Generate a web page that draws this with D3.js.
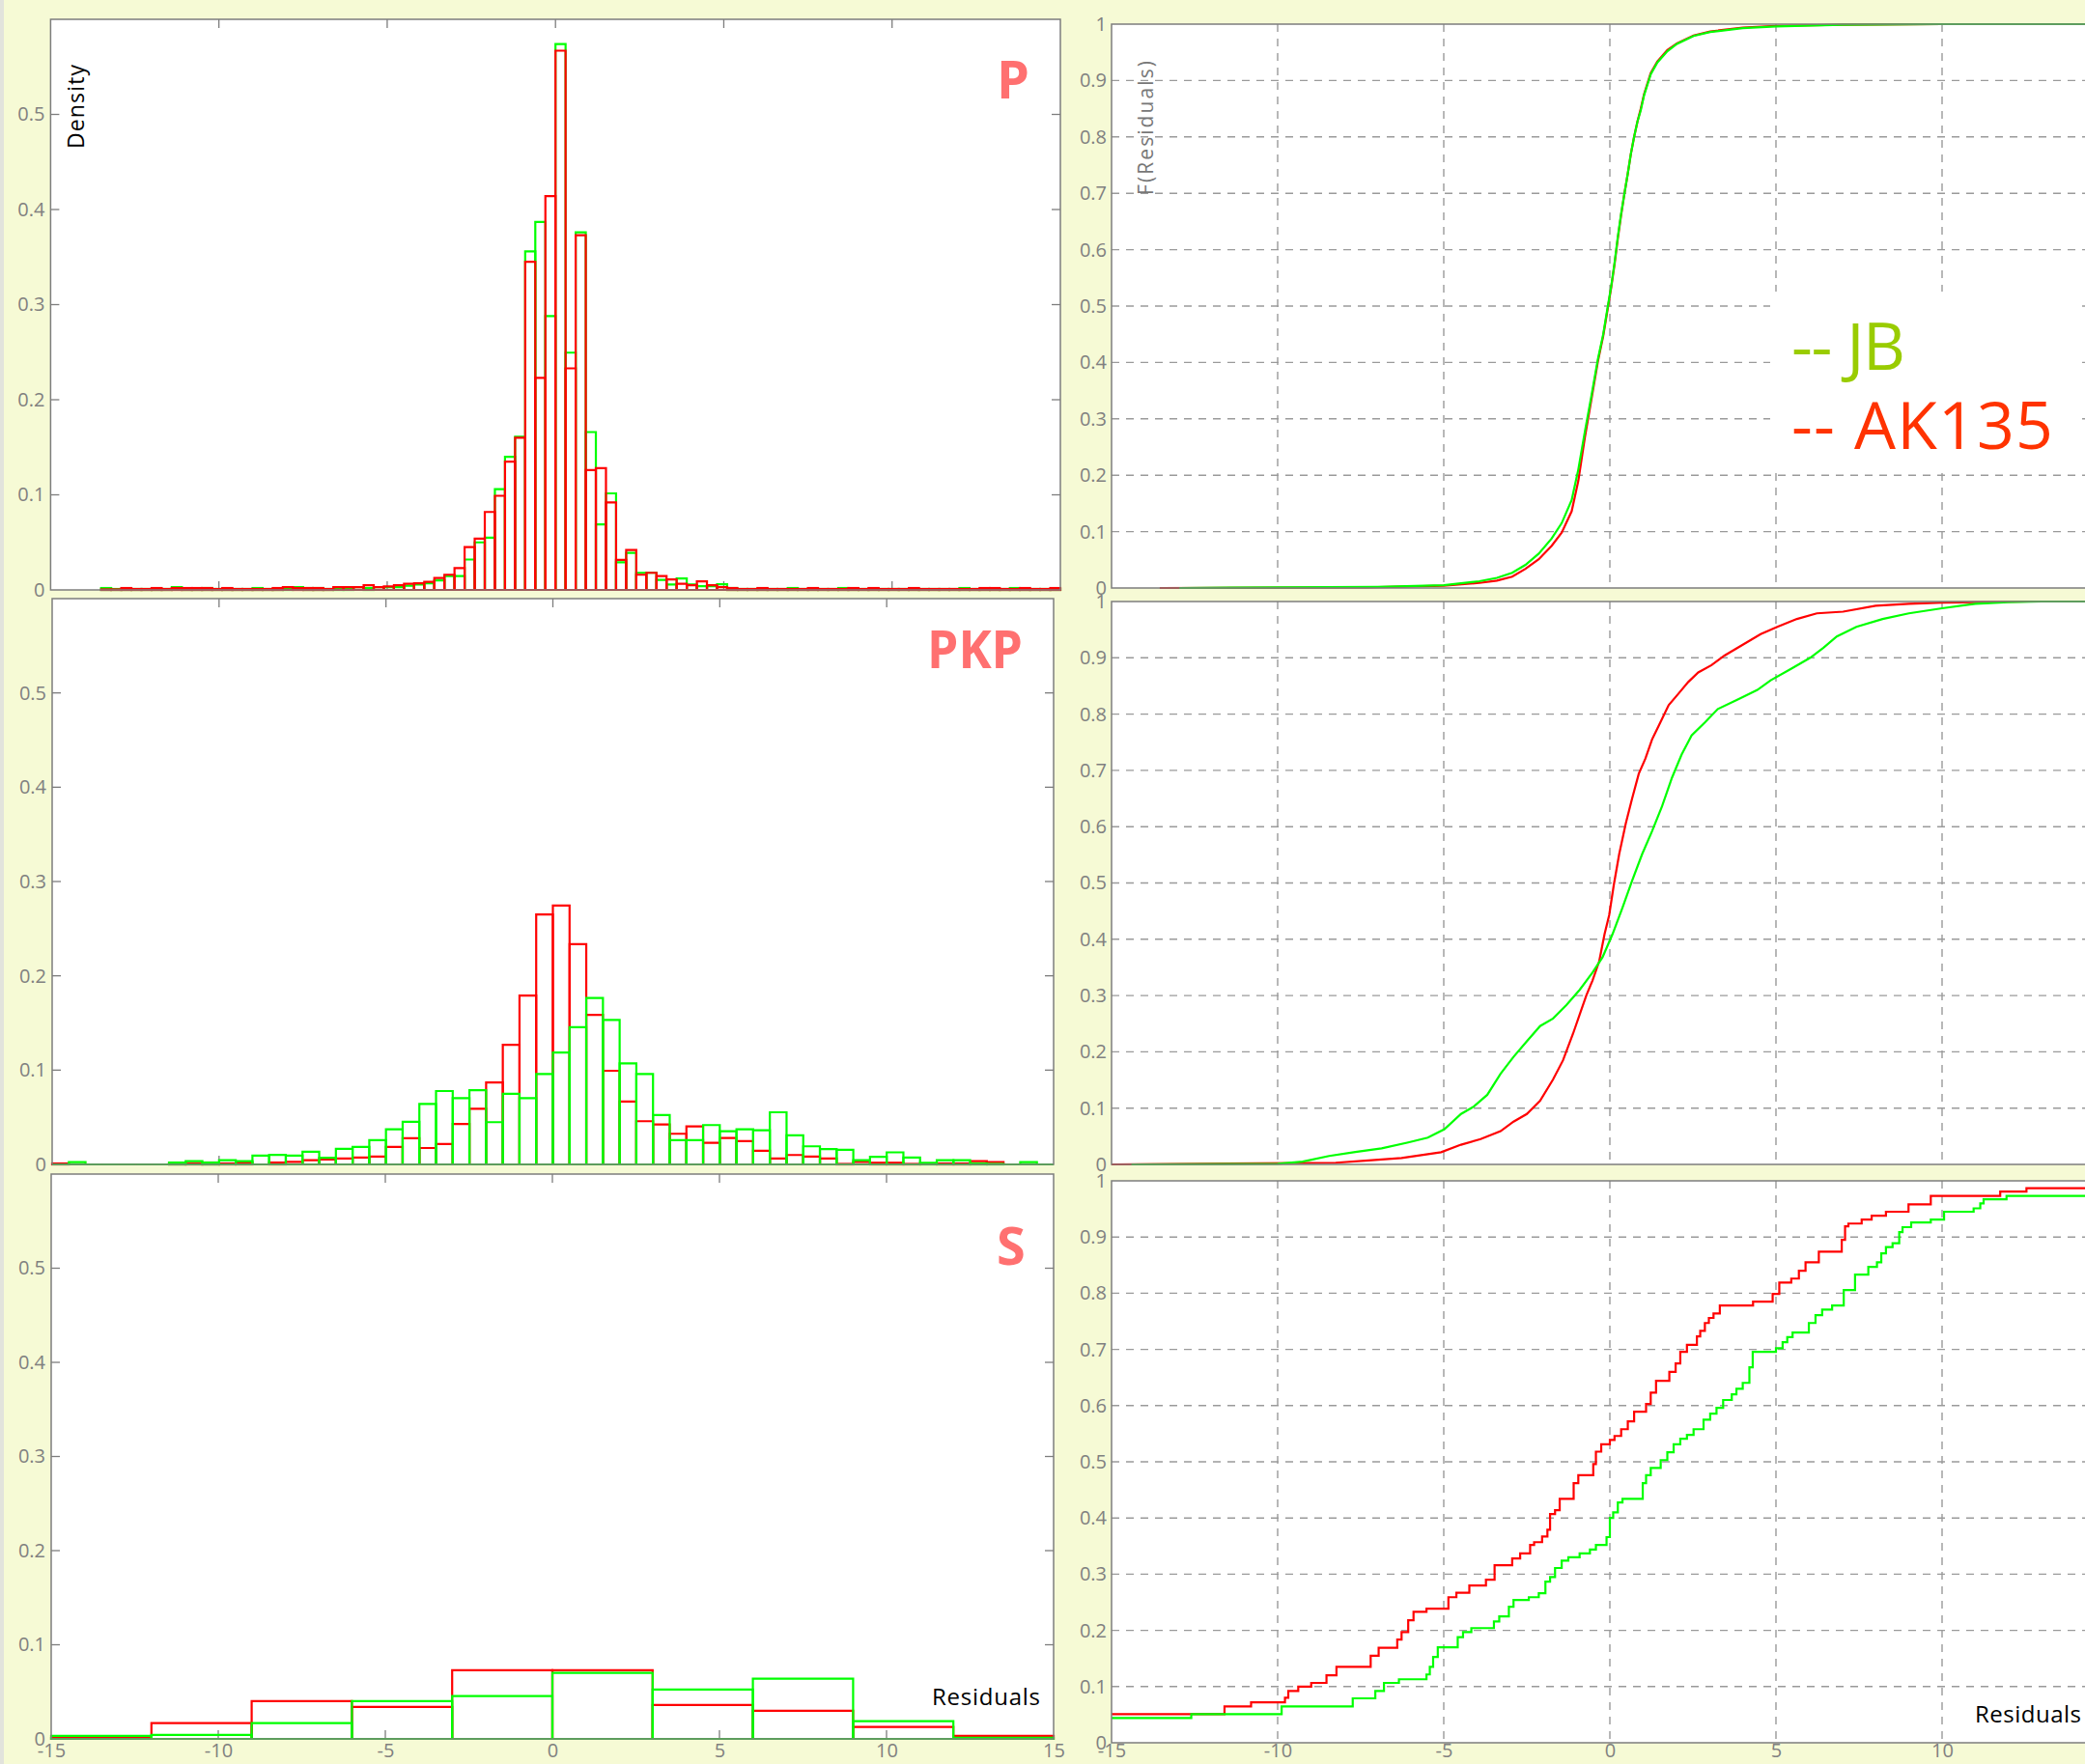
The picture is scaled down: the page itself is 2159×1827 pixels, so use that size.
<!DOCTYPE html>
<html>
<head>
<meta charset="utf-8">
<script src="https://cdn.jsdelivr.net/npm/d3@7"></script>
<style>
  body { margin: 0; background: #f6fad5; }
  svg { display: block; }
  text { font-family: "Open Sans", "DejaVu Sans", sans-serif; }
</style>
</head>
<body>
<svg id="fig" width="2159" height="1827"></svg>
<script>
// ---- histogram data (density per bin, bins start at -15) ----
const pBinWidth = 0.3;
const pJB = [null, null, null, null, null, 0.002, 0.001, 0.001, 0.001, 0.001,
  0.001, 0.001, 0.003, 0.001, 0.001, 0.002, 0.001, 0.001, 0.001, 0.001,
  0.002, 0.001, 0.001, 0.002, 0.003, 0.002, 0.002, 0.001, 0.002, 0.002,
  0.003, 0.002, 0.003, 0.003, 0.003, 0.0045, 0.0057, 0.007, 0.010, 0.0145,
  0.0145, 0.032, 0.050, 0.055, 0.106, 0.140, 0.161, 0.356, 0.387, 0.288,
  0.574, 0.2495, 0.376, 0.166, 0.069, 0.1015, 0.029, 0.039, 0.018, 0.018,
  0.0106, 0.0057, 0.012, 0.0057, 0.004, 0.004, 0.006, 0.002, 0.001, 0.001,
  0.001, 0.001, 0.001, 0.002, 0.001, 0.001, 0.001, 0.001, 0.002, 0.001,
  0.001, 0.001, 0.001, 0.001, 0.001, 0.001, 0.001, 0.001, 0.001, 0.001,
  0.002, 0.001, 0.001, 0.001, 0.001, 0.002, 0.001, 0.001, 0.001, 0.001];
const pAK = [null, null, null, null, null, 0.0005, 0.0005, 0.002, 0.001, 0.001,
  0.002, 0.001, 0.002, 0.002, 0.002, 0.002, 0.001, 0.002, 0.001, 0.001,
  0.001, 0.001, 0.002, 0.003, 0.002, 0.002, 0.002, 0.001, 0.003, 0.003,
  0.003, 0.005, 0.003, 0.0037, 0.005, 0.0065, 0.007, 0.0085, 0.0126, 0.016,
  0.023, 0.045, 0.054, 0.082, 0.099, 0.135, 0.160, 0.345, 0.223, 0.414,
  0.567, 0.233, 0.373, 0.126, 0.128, 0.092, 0.0316, 0.042, 0.016, 0.018,
  0.0145, 0.011, 0.0065, 0.005, 0.009, 0.005, 0.003, 0.002, 0.001, 0.001,
  0.002, 0.001, 0.001, 0.001, 0.001, 0.002, 0.001, 0.001, 0.001, 0.002,
  0.001, 0.002, 0.001, 0.001, 0.001, 0.002, 0.001, 0.001, 0.001, 0.001,
  0.001, 0.001, 0.002, 0.002, 0.001, 0.001, 0.002, 0.001, 0.001, 0.002];

const pkpBinWidth = 0.5;
const pkpJB = [0, 0.0024, 0, 0, 0, 0, 0, 0.002, 0.0035, 0.002,
  0.0044, 0.0035, 0.0093, 0.0102, 0.0093, 0.0134, 0.0070, 0.0165, 0.0185, 0.0257,
  0.0373, 0.0451, 0.0642, 0.0778, 0.0703, 0.0788, 0.0448, 0.0748, 0.0703, 0.0959,
  0.1187, 0.1456, 0.1764, 0.1532, 0.1071, 0.0959, 0.0523, 0.0257, 0.0257, 0.0417,
  0.0352, 0.0373, 0.0362, 0.0553, 0.0308, 0.0192, 0.0162, 0.0155, 0.0044, 0.008,
  0.0128, 0.0072, 0.0017, 0.0044, 0.0044, 0.001, 0.0005, 0, 0.0024, 0];
const pkpAK = [0.001, 0, 0, 0, 0, 0, 0, 0.001, 0.001, 0.002,
  0.001, 0.002, 0, 0.002, 0.0027, 0.0044, 0.0053, 0.0063, 0.0073, 0.0083,
  0.0185, 0.0278, 0.0174, 0.0216, 0.0428, 0.0591, 0.087, 0.1269, 0.1791, 0.2650,
  0.2745, 0.2336, 0.1586, 0.0993, 0.0666, 0.0458, 0.0424, 0.0325, 0.0404, 0.0230,
  0.0280, 0.0246, 0.0144, 0.0063, 0.0100, 0.0083, 0.0063, 0.0005, 0.0027, 0.0018,
  0.0018, 0.0005, 0, 0.001, 0.001, 0.0034, 0.0024, 0, 0, 0];

const sBinWidth = 3;
const sJB = [0.0033, 0.0043, 0.0168, 0.0402, 0.0455, 0.0701, 0.0525, 0.0639, 0.0189, 0.0013];
const sAK = [0.0013, 0.0168, 0.0402, 0.034, 0.0730, 0.0730, 0.0361, 0.0299, 0.0127, 0.0033];

// ---- empirical CDF readings [residual, F] ----
const cdfPJB = [[-12.96, 0], [-7.0, 0.002], [-5.0, 0.005], [-3.93, 0.012], [-3.4, 0.018],
  [-2.94, 0.027], [-2.54, 0.041], [-2.14, 0.061], [-1.75, 0.088], [-1.45, 0.115],
  [-1.15, 0.156], [-0.95, 0.21], [-0.75, 0.278], [-0.56, 0.339], [-0.36, 0.406],
  [-0.2, 0.45], [-0.06, 0.50], [0.04, 0.535], [0.14, 0.576], [0.24, 0.623],
  [0.34, 0.664], [0.44, 0.70], [0.54, 0.735], [0.63, 0.769], [0.73, 0.80],
  [0.83, 0.827], [0.93, 0.847], [1.03, 0.874], [1.23, 0.911], [1.43, 0.932],
  [1.73, 0.952], [2.02, 0.965], [2.52, 0.979], [3.02, 0.986], [4.0, 0.993],
  [5.0, 0.996], [7.0, 0.999], [10.0, 1.0], [15, 1.0]];
const cdfPAK = [[-13.55, 0], [-7.3, 0.001], [-6.6, 0.002], [-5.0, 0.004], [-3.93, 0.009],
  [-3.4, 0.013], [-2.94, 0.02], [-2.54, 0.034], [-2.14, 0.051], [-1.75, 0.075],
  [-1.45, 0.098], [-1.15, 0.136], [-0.95, 0.19], [-0.75, 0.268], [-0.56, 0.333],
  [-0.36, 0.402], [-0.2, 0.447], [-0.06, 0.497], [0.04, 0.533], [0.14, 0.574],
  [0.24, 0.62], [0.34, 0.662], [0.44, 0.70], [0.54, 0.735], [0.63, 0.769],
  [0.73, 0.80], [0.83, 0.827], [0.93, 0.85], [1.03, 0.876], [1.23, 0.913],
  [1.43, 0.934], [1.73, 0.954], [2.02, 0.966], [2.52, 0.98], [3.02, 0.987],
  [4.0, 0.994], [5.0, 0.997], [7.0, 0.999], [10.0, 1.0], [15, 1.0]];

const cdfPkpJB = [[-14.4, 0], [-10.0, 0.001], [-9.25, 0.005], [-8.45, 0.015], [-7.66, 0.022],
  [-6.87, 0.0285], [-6.07, 0.039], [-5.48, 0.0475], [-4.98, 0.0625], [-4.48, 0.0896],
  [-4.09, 0.103], [-3.69, 0.1236], [-3.29, 0.161], [-2.9, 0.191], [-2.5, 0.2186],
  [-2.1, 0.2458], [-1.71, 0.2593], [-1.31, 0.283], [-0.91, 0.31], [-0.52, 0.341],
  [-0.22, 0.368], [0.08, 0.409], [0.38, 0.456], [0.67, 0.504], [0.97, 0.551],
  [1.27, 0.592], [1.57, 0.636], [1.87, 0.687], [2.16, 0.728], [2.46, 0.762],
  [2.86, 0.785], [3.25, 0.809], [3.85, 0.826], [4.44, 0.843], [4.84, 0.86],
  [5.44, 0.88], [6.03, 0.90], [6.43, 0.918], [6.83, 0.938], [7.42, 0.955],
  [8.21, 0.969], [9.0, 0.979], [10.0, 0.988], [11.0, 0.996], [12.0, 0.999],
  [13.0, 1.0], [15, 1.0]];
const cdfPkpAK = [[-15, 0], [-8.25, 0.003], [-7.26, 0.007], [-6.27, 0.0115], [-5.08, 0.0217],
  [-4.48, 0.035], [-3.89, 0.045], [-3.29, 0.059], [-2.9, 0.076], [-2.5, 0.0896],
  [-2.1, 0.113], [-1.71, 0.151], [-1.41, 0.185], [-1.11, 0.232], [-0.91, 0.266],
  [-0.71, 0.30], [-0.52, 0.327], [-0.32, 0.361], [-0.16, 0.409], [-0.02, 0.443],
  [0.12, 0.497], [0.28, 0.551], [0.48, 0.606], [0.67, 0.65], [0.87, 0.694],
  [1.07, 0.721], [1.27, 0.755], [1.47, 0.779], [1.77, 0.816], [2.06, 0.836],
  [2.36, 0.857], [2.66, 0.874], [3.06, 0.887], [3.45, 0.904], [4.05, 0.925],
  [4.54, 0.942], [5.04, 0.955], [5.63, 0.969], [6.23, 0.979], [7.02, 0.982],
  [8.0, 0.9925], [9.0, 0.996], [10.0, 0.998], [12.6, 1.0], [15, 1.0]];

const cdfSJB = [[-15, 0.044], [-12.6, 0.051], [-9.88, 0.0646], [-7.74, 0.079], [-7.06, 0.092],
  [-6.8, 0.1065], [-6.35, 0.113], [-5.52, 0.1216], [-5.42, 0.135], [-5.32, 0.1526],
  [-5.18, 0.170], [-4.58, 0.188], [-4.42, 0.197], [-4.17, 0.204], [-3.49, 0.216],
  [-3.33, 0.225], [-3.04, 0.242], [-2.9, 0.254], [-2.44, 0.259], [-2.14, 0.266],
  [-1.94, 0.2866], [-1.8, 0.295], [-1.65, 0.311], [-1.45, 0.324], [-1.25, 0.330],
  [-0.91, 0.337], [-0.6, 0.344], [-0.42, 0.352], [-0.1, 0.366], [0, 0.40],
  [0.1, 0.41], [0.24, 0.4275], [0.38, 0.434], [0.99, 0.462], [1.09, 0.476],
  [1.23, 0.489], [1.53, 0.503], [1.73, 0.517], [1.92, 0.531], [2.12, 0.541],
  [2.32, 0.548], [2.52, 0.558], [2.82, 0.575], [3.02, 0.5856], [3.21, 0.596],
  [3.41, 0.610], [3.67, 0.620], [3.81, 0.630], [4.0, 0.6405], [4.2, 0.668],
  [4.3, 0.6955], [5.0, 0.702], [5.2, 0.713], [5.34, 0.722], [5.5, 0.730],
  [5.99, 0.747], [6.19, 0.761], [6.39, 0.771], [6.69, 0.778], [7.04, 0.8055],
  [7.38, 0.833], [7.78, 0.847], [8.04, 0.855], [8.17, 0.871], [8.31, 0.882],
  [8.51, 0.889], [8.71, 0.9086], [8.81, 0.9175], [9.07, 0.926], [9.66, 0.931],
  [10.06, 0.945], [10.95, 0.951], [11.15, 0.960], [11.25, 0.967], [11.94, 0.973],
  [15, 0.973]];
const cdfSAK = [[-15, 0.051], [-11.6, 0.0646], [-10.8, 0.072], [-9.78, 0.080], [-9.68, 0.092],
  [-9.38, 0.100], [-8.99, 0.1065], [-8.53, 0.120], [-8.23, 0.135], [-7.2, 0.155],
  [-6.96, 0.169], [-6.4, 0.1835], [-6.27, 0.197], [-6.07, 0.218], [-5.91, 0.233],
  [-5.52, 0.2385], [-4.86, 0.259], [-4.62, 0.267], [-4.23, 0.28], [-3.73, 0.29],
  [-3.47, 0.316], [-2.94, 0.328], [-2.7, 0.337], [-2.4, 0.352], [-2.28, 0.357],
  [-2.04, 0.367], [-1.88, 0.379], [-1.8, 0.407], [-1.65, 0.414], [-1.51, 0.434],
  [-1.09, 0.462], [-0.95, 0.476], [-0.5, 0.496], [-0.42, 0.518], [-0.26, 0.531],
  [0, 0.539], [0.14, 0.546], [0.34, 0.558], [0.54, 0.572], [0.73, 0.589],
  [1.09, 0.603], [1.23, 0.623], [1.39, 0.644], [1.79, 0.660], [1.98, 0.675],
  [2.12, 0.6955], [2.32, 0.708], [2.62, 0.723], [2.72, 0.733], [2.86, 0.747],
  [2.98, 0.756], [3.12, 0.764], [3.31, 0.778], [4.31, 0.785], [4.9, 0.7986],
  [5.1, 0.819], [5.46, 0.826], [5.69, 0.840], [5.89, 0.855], [6.29, 0.874],
  [6.98, 0.895], [7.08, 0.919], [7.18, 0.924], [7.58, 0.931], [7.88, 0.938],
  [8.31, 0.945], [8.99, 0.958], [9.66, 0.973], [11.75, 0.981], [12.54, 0.987],
  [15, 0.987]];

// ---- tick labels ----
const histYTicks = [0, 0.1, 0.2, 0.3, 0.4, 0.5];
const cdfYTicks = [0, 0.1, 0.2, 0.3, 0.4, 0.5, 0.6, 0.7, 0.8, 0.9, 1];
const xTicks = [-15, -10, -5, 0, 5, 10, 15];
const cdfXTicks = [-15, -10, -5, 0, 5, 10];   // 15 falls outside the window
const innerXTicks = [-10, -5, 0, 5, 10];

const GREEN = "#00ff00", RED = "#ff0000";
const FRAME = "#7d7d7d", TICKTEXT = "#808080", GRID = "#9a9a9a";
const LABEL = "#ff7070";
const TICKFONT = 20;

const svg = d3.select("#fig");
svg.append("rect").attr("width", 2159).attr("height", 1827).attr("fill", "#f6fad5");
svg.append("rect").attr("width", 4).attr("height", 1827).attr("fill", "#e2e3dc");

function styleTicks(sel) {
  sel.select(".domain").remove();
  sel.selectAll("text").attr("fill", TICKTEXT).attr("font-size", TICKFONT)
    .attr("font-family", "Open Sans, sans-serif");
}

// left column: histograms
const histPanels = [
  { name: "P", x0: 52.4, x1: 1098, y0: 20, y1: 611, w: pBinWidth, jb: pJB, ak: pAK, redTop: true, lx: 1032, ly: 102 },
  { name: "PKP", x0: 54, x1: 1091, y0: 620, y1: 1206, w: pkpBinWidth, jb: pkpJB, ak: pkpAK, redTop: false, lx: 960, ly: 692, len: 99 },
  { name: "S", x0: 53, x1: 1091, y0: 1216, y1: 1801, w: sBinWidth, jb: sJB, ak: sAK, redTop: false, lx: 1032, ly: 1310, xlabels: true }
];

histPanels.forEach(p => {
  const x = d3.scaleLinear().domain([-15, 15]).range([p.x0, p.x1]);
  const y = d3.scaleLinear().domain([0, 0.6]).range([p.y1, p.y0]);
  const g = svg.append("g");

  g.append("rect").attr("x", p.x0).attr("y", p.y0)
    .attr("width", p.x1 - p.x0).attr("height", p.y1 - p.y0).attr("fill", "#fff");

  // inward ticks on all four sides
  const ticks = g.append("g").attr("stroke", FRAME).attr("stroke-width", 1.3);
  innerXTicks.forEach(t => {
    ticks.append("line").attr("x1", x(t)).attr("x2", x(t)).attr("y1", p.y0).attr("y2", p.y0 + 9);
    ticks.append("line").attr("x1", x(t)).attr("x2", x(t)).attr("y1", p.y1).attr("y2", p.y1 - 9);
  });
  histYTicks.slice(1).forEach(t => {
    ticks.append("line").attr("x1", p.x0).attr("x2", p.x0 + 9).attr("y1", y(t)).attr("y2", y(t));
    ticks.append("line").attr("x1", p.x1).attr("x2", p.x1 - 9).attr("y1", y(t)).attr("y2", y(t));
  });

  g.append("g").attr("transform", `translate(${p.x0},0)`)
    .call(d3.axisLeft(y).tickValues(histYTicks).tickSize(0).tickPadding(6).tickFormat(d => String(d)))
    .call(styleTicks);

  if (p.xlabels) {
    g.append("g").attr("transform", `translate(0,${p.y1})`)
      .call(d3.axisBottom(x).tickValues(xTicks).tickSize(0).tickPadding(5).tickFormat(d => String(d)))
      .call(styleTicks);
  }

  // outline bars
  function bars(vals, color) {
    const bg = g.append("g").attr("fill", "none").attr("stroke", color)
      .attr("stroke-width", 2.2).attr("stroke-linejoin", "miter");
    vals.forEach((v, i) => {
      if (v == null) return;
      const a = -15 + i * p.w, b = a + p.w;
      bg.append("path").attr("d",
        `M${x(a)},${y(0)}V${y(v)}H${x(b)}V${y(0)}Z`);
    });
  }
  if (p.redTop) { bars(p.jb, GREEN); bars(p.ak, RED); }
  else { bars(p.ak, RED); bars(p.jb, GREEN); }

  g.append("rect").attr("x", p.x0).attr("y", p.y0)
    .attr("width", p.x1 - p.x0).attr("height", p.y1 - p.y0)
    .attr("fill", "none").attr("stroke", FRAME).attr("stroke-width", 1.5);

  const lab = g.append("text").attr("x", p.lx).attr("y", p.ly)
    .attr("fill", LABEL).attr("font-size", 54).attr("font-weight", "bold")
    .text(p.name);
  if (p.len) lab.attr("textLength", p.len).attr("lengthAdjust", "spacingAndGlyphs");
});

svg.append("text").attr("transform", "translate(87,110.5) rotate(-90)")
  .attr("text-anchor", "middle").attr("font-size", 23).attr("fill", "#000")
  .attr("textLength", 87).text("Density");
svg.append("text").attr("x", 965).attr("y", 1766)
  .attr("font-size", 24).attr("fill", "#000").attr("textLength", 112).text("Residuals");

// right column: empirical CDFs
const cdfPanels = [
  { x0: 1151, x1: 2183, y0: 25, y1: 609, jb: cdfPJB, ak: cdfPAK, curve: d3.curveLinear },
  { x0: 1151, x1: 2183, y0: 623, y1: 1206, jb: cdfPkpJB, ak: cdfPkpAK, curve: d3.curveLinear },
  { x0: 1151, x1: 2183, y0: 1223, y1: 1805, jb: cdfSJB, ak: cdfSAK, curve: d3.curveStepAfter, xlabels: true }
];

cdfPanels.forEach((p, idx) => {
  const x = d3.scaleLinear().domain([-15, 15]).range([p.x0, p.x1]);
  const y = d3.scaleLinear().domain([0, 1]).range([p.y1, p.y0]);
  const g = svg.append("g");

  g.append("rect").attr("x", p.x0).attr("y", p.y0)
    .attr("width", p.x1 - p.x0).attr("height", p.y1 - p.y0).attr("fill", "#fff");

  const grid = g.append("g").attr("stroke", GRID).attr("stroke-width", 1.4)
    .attr("stroke-dasharray", "8,7");
  innerXTicks.forEach(t => grid.append("line")
    .attr("x1", x(t)).attr("x2", x(t)).attr("y1", p.y0).attr("y2", p.y1));
  cdfYTicks.slice(1, -1).forEach(t => grid.append("line")
    .attr("x1", p.x0).attr("x2", p.x1).attr("y1", y(t)).attr("y2", y(t)));

  g.append("g").attr("transform", `translate(${p.x0},0)`)
    .call(d3.axisLeft(y).tickValues(cdfYTicks).tickSize(0).tickPadding(5).tickFormat(d => String(d)))
    .call(styleTicks);

  if (p.xlabels) {
    g.append("g").attr("transform", `translate(0,${p.y1})`)
      .call(d3.axisBottom(x).tickValues(cdfXTicks).tickSize(0).tickPadding(1).tickFormat(d => String(d)))
      .call(styleTicks);
  }

  if (idx === 0) {
    // legend box hides the grid behind it
    g.append("rect").attr("x", 1833).attr("y", 302).attr("width", 319).attr("height", 187)
      .attr("fill", "#fff");
  }

  const line = d3.line().x(d => x(d[0])).y(d => y(d[1])).curve(p.curve);
  g.append("path").datum(p.ak).attr("d", line).attr("fill", "none")
    .attr("stroke", RED).attr("stroke-width", 2.2);
  g.append("path").datum(p.jb).attr("d", line).attr("fill", "none")
    .attr("stroke", GREEN).attr("stroke-width", 2.2);

  g.append("rect").attr("x", p.x0).attr("y", p.y0)
    .attr("width", p.x1 - p.x0).attr("height", p.y1 - p.y0)
    .attr("fill", "none").attr("stroke", FRAME).attr("stroke-width", 1.5);
});

svg.append("text").attr("transform", "translate(1194,132.5) rotate(-90)")
  .attr("text-anchor", "middle").attr("font-size", 21).attr("fill", "#777")
  .attr("textLength", 139).text("F(Residuals)");
svg.append("text").attr("x", 2045).attr("y", 1784)
  .attr("font-size", 24).attr("fill", "#000").attr("textLength", 110).text("Residuals");

// legend
svg.append("text").attr("x", 1855).attr("y", 383).attr("font-size", 68)
  .attr("fill", "#99cc00").attr("textLength", 118).text("-- JB");
svg.append("text").attr("x", 1855).attr("y", 465).attr("font-size", 68)
  .attr("fill", "#ff3300").attr("textLength", 271).text("-- AK135");
</script>
</body>
</html>
